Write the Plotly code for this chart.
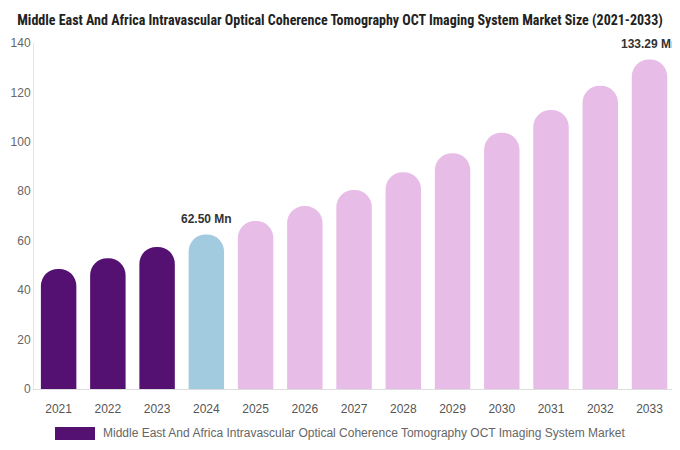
import plotly.graph_objects as go

# market size values (USD Mn)
years = ["2021", "2022", "2023", "2024", "2025", "2026", "2027",
         "2028", "2029", "2030", "2031", "2032", "2033"]
values = [48.6, 52.9, 57.5, 62.50, 68.0, 74.0, 80.5, 87.7, 95.4, 103.7, 112.9, 122.7, 133.29]
labelled = ["2024", "2033"]

HIST = "#541172"
BASE = "#a3cbe0"
FCST = "#e7bde8"
colors = [HIST if int(y) < 2024 else (BASE if y == "2024" else FCST) for y in years]

series_name = "Middle East And Africa Intravascular Optical Coherence Tomography OCT Imaging System Market"
title = "Middle East And Africa Intravascular Optical Coherence Tomography OCT Imaging System Market Size (2021-2033)"

# page body has an 8px margin, so the figure is 8px smaller than the window
W, H = 672, 442

fig = go.Figure()
fig.add_trace(go.Bar(
    x=years, y=values,
    marker=dict(color=colors, cornerradius=18, line=dict(width=0)),
    name=series_name,
    showlegend=False,
    hoverinfo="x+y",
))

# value labels over the base year and the last forecast year
# (category index used for x, plotly reads "2024" as a number otherwise)
for i, (y, v) in enumerate(zip(years, values)):
    if y in labelled:
        fig.add_annotation(x=i, y=v, text="<b>%.2f Mn</b>" % v, showarrow=False,
                           yshift=16, font=dict(size=12, color="#333333",
                                                family="Liberation Sans, Arial"))

# legend drawn by hand so the swatch is a wide bar like the original
fig.add_shape(type="rect", xref="paper", yref="paper",
              x0=(55 - 34) / 646, x1=(95 - 34) / 646, y0=-(440 - 389) / 346, y1=-(427 - 389) / 346,
              fillcolor=HIST, line=dict(width=0))
fig.add_annotation(xref="paper", yref="paper", x=(101 - 34) / 646, y=-(433 - 389) / 346,
                   xanchor="left", yanchor="middle", showarrow=False, text=series_name,
                   font=dict(size=12, color="#666666", family="Liberation Sans, Arial"))

fig.update_layout(
    width=W, height=H,
    margin=dict(l=26, r=0, t=35, b=61),
    paper_bgcolor="white", plot_bgcolor="white",
    bargap=0.28,
    title=dict(text="<b>" + title + "</b>", x=332 / W, xanchor="center", y=1 - 12 / H, yanchor="middle",
               font=dict(size=14, color="#222222",
                         family="Liberation Sans Narrow, Roboto Condensed, Arial Narrow")),
    font=dict(family="Liberation Sans, Arial", color="#666666"),
    xaxis=dict(type="category", showgrid=False, showline=True, linecolor="#dddddd", linewidth=1,
               ticks="", tickfont=dict(size=12, color="#555555"), ticklabelstandoff=9),
    yaxis=dict(range=[0, 140], dtick=20, showgrid=False, showline=True, linecolor="#e6e6e6",
               zeroline=False, ticks="", tickfont=dict(size=12, color="#666666")),
)

fig.write_html("out.html")
